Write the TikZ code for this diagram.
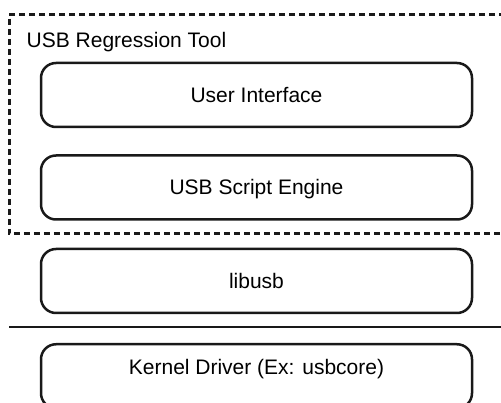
\documentclass[tikz,border=0pt]{standalone}
\usepackage{fontspec}
\setmainfont{Liberation Sans}
\begin{document}
\begin{tikzpicture}[x=1pt,y=-1pt,
  layer/.style={draw=black!90, line width=2.5pt, rounded corners=15pt,
    minimum width=431pt, minimum height=64pt, inner sep=0pt},
  txt/.style={font=\fontsize{21}{24}\selectfont, text height=15pt, text depth=0pt, inner sep=0pt, text=black},
  frame/.style={draw=black!90, line width=3pt, dash pattern=on 6pt off 4pt},
  sep/.style={draw=black!90, line width=2.8pt}]
\useasboundingbox (0,0) rectangle (501,403);
\clip (0,0) rectangle (501,403);
% dashed group frame
\coordinate (ftr) at (505,15);
\coordinate (ftl) at (9,15);
\coordinate (fbl) at (9,234);
\coordinate (fbr) at (505,234);
\draw[frame] (ftr) -- (ftl) -- (fbl) -- (fbr);
\node[txt, anchor=west] (grp) at (26.5,40) {USB Regression Tool};
% layers
\node[layer, txt, minimum width=431pt, minimum height=64pt] (ui) at (256.5,95) {User Interface};
\node[layer, txt, minimum width=431pt, minimum height=64pt] (se) at (256.5,187.5) {USB Script Engine};
\node[layer, txt, minimum width=431pt, minimum height=64pt] (lib) at (256.5,281) {libusb};
% separator line
\coordinate (sl) at (9,327);
\coordinate (sr) at (505,327);
\draw[sep] (sl) -- (sr);
% kernel layer (cut by the lower edge)
\node[layer, anchor=north] (kern) at (256.5,343) {};
\node[txt] (kerntext) at (256.5,367) {Kernel Driver (Ex: usbcore)};
\end{tikzpicture}
\end{document}
